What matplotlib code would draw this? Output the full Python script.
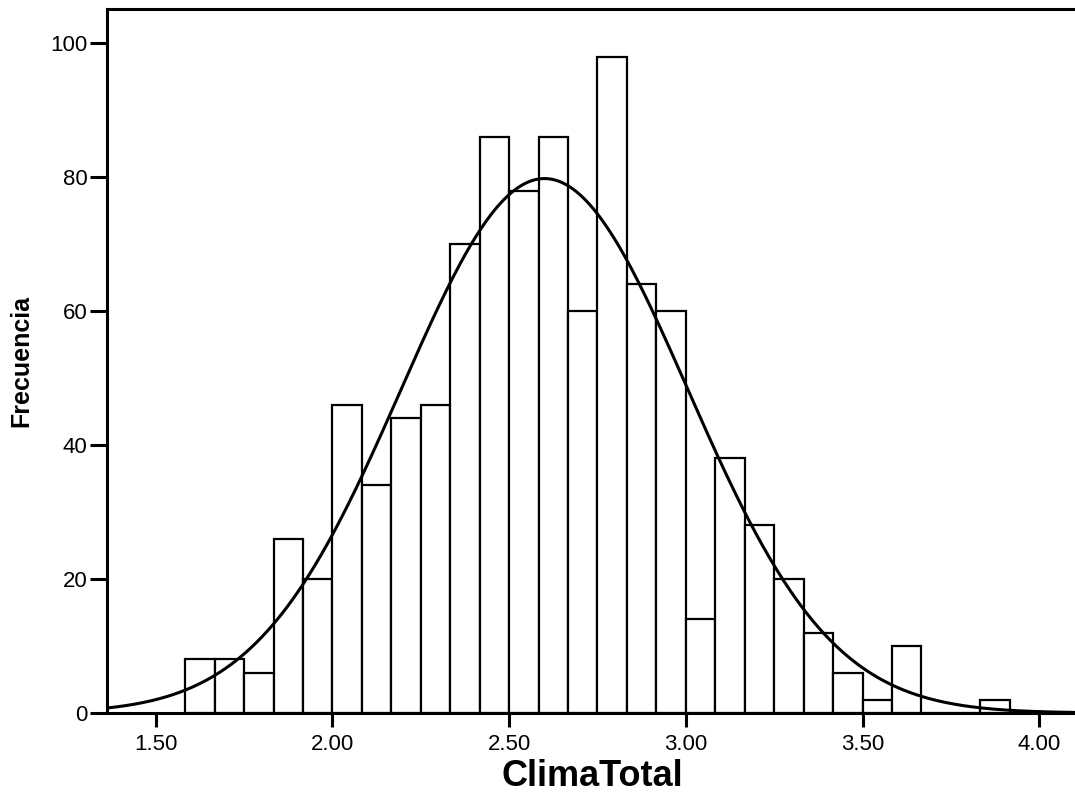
import numpy as np
import matplotlib
matplotlib.use("Agg")
import matplotlib.pyplot as plt

# Data
bin_start = 19 / 12
bin_width = 1 / 12
counts = [8, 8, 6, 26, 20, 46, 34, 44, 46, 70, 86, 78, 86, 60, 98, 64, 60,
          14, 38, 28, 20, 12, 6, 2, 10, 0, 0, 2]
mean_val = 2.60
std_val = 0.405
x_ticks = [1.5, 2.0, 2.5, 3.0, 3.5, 4.0]
x_ticklabels = ["1.50", "2.00", "2.50", "3.00", "3.50", "4.00"]
y_ticks = [0, 20, 40, 60, 80, 100]

plt.rcParams['font.family'] = ['Liberation Sans', 'DejaVu Sans']

fig = plt.figure(figsize=(10.75, 7.96), dpi=100)
W, H = 1075, 796
left, right, top, bottom = 107, 1078, 9, 713
ax = fig.add_axes([left / W, 1 - bottom / H, (right - left) / W, (bottom - top) / H])

n = len(counts)
edges = bin_start + bin_width * np.arange(n + 1)
lefts = edges[:-1]
ax.bar(lefts, counts, width=bin_width, align='edge', facecolor='white',
       edgecolor='black', linewidth=1.6, zorder=2)

N = sum(counts)
xs = np.linspace(1.3, 4.2, 600)
ys = N * bin_width / (std_val * np.sqrt(2 * np.pi)) * np.exp(-0.5 * ((xs - mean_val) / std_val) ** 2)
ax.plot(xs, ys, color='black', linewidth=2.2, zorder=3)

ax.set_xlim(1.362, 1.5 + (right - 155.7) / 353.4)
ax.set_ylim(0, 105.1)
ax.set_xticks(x_ticks)
ax.set_xticklabels(x_ticklabels)
ax.set_yticks(y_ticks)
for s in ['left', 'top', 'bottom', 'right']:
    ax.spines[s].set_linewidth(2.2)
ax.tick_params(axis='both', direction='out', width=2.2, labelsize=16)
ax.tick_params(axis='y', length=12, pad=2)
ax.tick_params(axis='x', length=10, pad=5)

ax.set_xlabel('ClimaTotal', fontsize=26, fontweight='bold', labelpad=3)
ax.set_ylabel('Frecuencia', fontsize=18, fontweight='bold', labelpad=12)

fig.savefig('out.png', dpi=100)
